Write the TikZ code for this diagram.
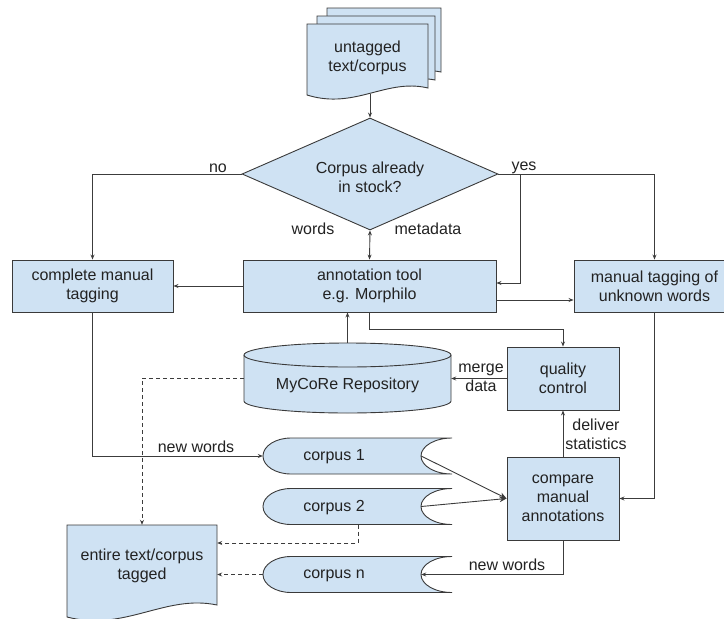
\documentclass[tikz,border=0pt]{standalone}
\usepackage{fontspec}
\setmainfont{Liberation Sans}
\usetikzlibrary{arrows.meta,shapes.geometric,calc}
\definecolor{boxfill}{HTML}{CFE2F3}
\definecolor{boxline}{HTML}{3A3A3A}
\definecolor{connc}{HTML}{3C3C3C}
\definecolor{txtc}{HTML}{222222}
\begin{document}
\begin{tikzpicture}[x=1pt,y=-1pt,
  font=\fontsize{16}{19}\selectfont,
  every node/.style={text=txtc},
  box/.style={draw=boxline,fill=boxfill,line width=0.9pt,align=center,inner sep=0pt,rectangle},
  shapeline/.style={draw=boxline,fill=boxfill,line width=0.9pt},
  txt/.style={align=center,inner sep=0pt},
  anchorbox/.style={inner sep=0pt,rectangle},
  conn/.style={draw=connc,line width=0.9pt,-{Stealth[length=5pt,width=4pt]}},
  bigconn/.style={draw=connc,line width=0.9pt,-{Stealth[length=7pt,width=6pt]}},
  dconn/.style={conn,dash pattern=on 4pt off 3pt},
  lbl/.style={inner sep=0pt,align=center}
]
\useasboundingbox (0,0) rectangle (724,619);

% stacked documents (source)
\draw[shapeline] (327,8) -- (441,8) -- (441,72) .. controls (401,64) and (373,92) .. (327,79) -- cycle;
\draw[shapeline] (317,16) -- (435,16) -- (435,80) .. controls (394,72) and (364,100) .. (317,87) -- cycle;
\draw[shapeline] (307,24) -- (428,24) -- (428,88) .. controls (386,78) and (355,110) .. (307,95) -- cycle;
\node[txt] (src) at (367.5,58) {untagged\\text/corpus};
\coordinate (srcb) at (370,93.5);

% decision
\node[diamond,draw=boxline,fill=boxfill,line width=0.9pt,minimum width=256pt,minimum height=112pt,
      aspect=2.3,inner sep=0pt] (dec) at (370,174) {};
\node[txt] (dect) at (370,177.5) {Corpus already\\in stock?};

% boxes
\node[box,minimum width=161pt,minimum height=52pt] (cmt) at (92.5,286) {complete manual\\tagging};
\node[box,minimum width=253pt,minimum height=52pt] (ann) at (369.5,286) {annotation tool\\e.g. Morphilo};
\node[box,minimum width=161pt,minimum height=52pt] (mtu) at (654.5,286) {manual tagging of\\unknown words};
\node[box,minimum width=112pt,minimum height=63pt] (qc) at (563,378.5) {quality\\control};
\node[box,minimum width=112pt,minimum height=83pt] (cmp) at (563,498.5) {compare\\manual\\annotations};

% repository cylinder
\draw[shapeline] (244,355) -- (244,401) arc[start angle=180,end angle=360,x radius=103.5pt,y radius=12pt]
   -- (451,355) arc[start angle=0,end angle=180,x radius=103.5pt,y radius=12pt] -- cycle;
\draw[draw=boxline,line width=0.9pt] (244,355) arc[start angle=180,end angle=360,x radius=103.5pt,y radius=12pt];
\node[anchorbox,minimum width=207pt,minimum height=70pt] (repo) at (347.5,378) {};
\node[txt] (repot) at (347.5,385) {MyCoRe Repository};

% stored data shapes (corpora)
\draw[shapeline] (291,438) -- (452,438) arc[start angle=90,end angle=270,x radius=31pt,y radius=18pt]
   -- (291,474) arc[start angle=270,end angle=90,x radius=28pt,y radius=18pt] -- cycle;
\node[anchorbox,minimum width=158pt,minimum height=36pt] (c1) at (342,456) {};
\node[txt] (c1t) at (334,457) {corpus 1};

\draw[shapeline] (291,488.5) -- (452,488.5) arc[start angle=90,end angle=270,x radius=31pt,y radius=18pt]
   -- (291,524.5) arc[start angle=270,end angle=90,x radius=28pt,y radius=18pt] -- cycle;
\node[anchorbox,minimum width=158pt,minimum height=36pt] (c2) at (342,506.5) {};
\node[txt] (c2t) at (334,507.5) {corpus 2};

\draw[shapeline] (291,556.5) -- (452,556.5) arc[start angle=90,end angle=270,x radius=31pt,y radius=18pt]
   -- (291,592.5) arc[start angle=270,end angle=90,x radius=28pt,y radius=18pt] -- cycle;
\node[anchorbox,minimum width=158pt,minimum height=36pt] (cn) at (342,574.5) {};
\node[txt] (cnt) at (334,575.5) {corpus n};

% result document
\draw[shapeline] (67,525) -- (217,525) -- (217,605) .. controls (165,594) and (125,632) .. (67,617) -- cycle;
\node[anchorbox,minimum width=150pt,minimum height=80pt] (ent) at (142,565) {};
\node[txt] (entt) at (142,566) {entire text/corpus\\tagged};

% connectors
\draw[conn] (srcb) -- (dec.north);
\draw[conn] (dec.west) -| (cmt.north);
\draw[conn] (dec.east) -| (mtu.north);
\coordinate (ybr) at ($(dec.east)+(22,0)$);
\draw[conn] (ybr) |- ([yshift=3pt]ann.east);
\draw[draw=connc,line width=0.9pt,{Stealth[length=5pt,width=4pt]}-{Stealth[length=5pt,width=4pt]}] (dec.south) -- (ann.north);
\draw[conn] (ann.west) -- (cmt.east);
\draw[conn] ([yshift=-14pt]ann.east) -- ([yshift=-14pt]mtu.west);
\draw[conn] ([xshift=-0.5pt]ann.south) -- ++(0,17) -| (qc.north);
\draw[conn] (repo.north) -- (repo.north |- ann.south);
\draw[conn] (qc.west) -- (repo.east |- qc.west);
\draw[dconn] (repo.west) -| (ent.north);
\draw[conn] (cmt.south) |- (c1.west);
\draw[bigconn] (c1.east) -- (cmp.west);
\draw[bigconn] (c2.east) -- (cmp.west);
\draw[conn] (cmp.north) -- (qc.south);
\draw[conn] (mtu.south) |- (cmp.east);
\draw[conn] (cmp.south) |- (cn.east);
\draw[dconn] ([xshift=16pt]c2.south) |- ([yshift=22pt]ent.east);
\draw[dconn] (cn.west) -- (cn.west -| ent.east);

% labels
\node[lbl] (lno) at (218,168) {no};
\node[lbl] (lyes) at (524,168) {yes};
\node[lbl] (lwords) at (313,229) {words};
\node[lbl] (lmeta) at (428,229) {metadata};
\node[lbl] (lmerge) at (481,377.5) {merge\\data};
\node[lbl] (lnw1) at (196,447) {new words};
\node[lbl] (ldeliv) at (596,434) {deliver\\statistics};
\node[lbl] (lnw2) at (507,565) {new words};
\end{tikzpicture}
\end{document}
